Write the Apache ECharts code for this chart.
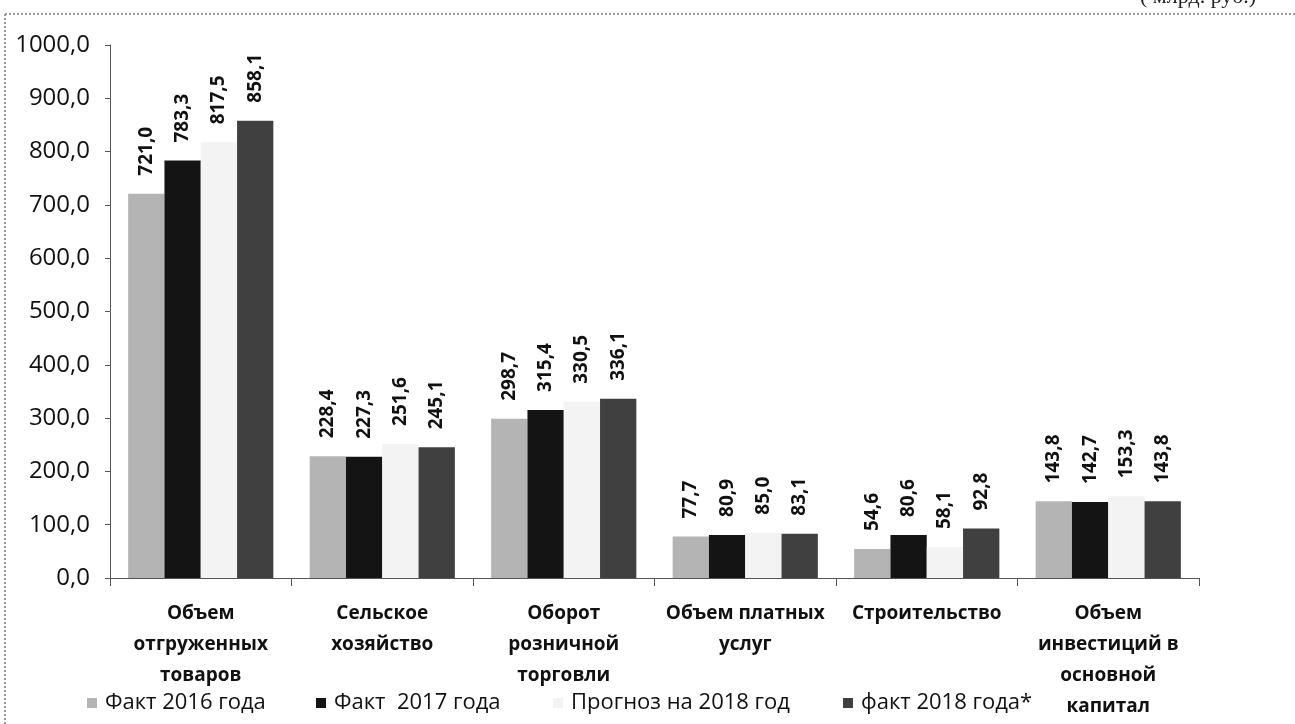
<!DOCTYPE html>
<html>
<head>
<meta charset="utf-8">
<script src="https://cdn.jsdelivr.net/npm/echarts@6/dist/echarts.min.js"></script>
<style>
html,body{margin:0;padding:0;background:#fff;}
#c{width:1295px;height:724px;}
</style>
</head>
<body>
<div id="c"></div>
<script>
var categories = [
  'Объем\nотгруженных\nтоваров',
  'Сельское\nхозяйство',
  'Оборот\nрозничной\nторговли',
  'Объем платных\nуслуг',
  'Строительство',
  'Объем\nинвестиций в\nосновной\nкапитал'
];
var seriesNames = ['Факт 2016 года', 'Факт  2017 года', 'Прогноз на 2018 год', 'факт 2018 года*'];
var fact2016 = [721.0, 228.4, 298.7, 77.7, 54.6, 143.8];
var fact2017 = [783.3, 227.3, 315.4, 80.9, 80.6, 142.7];
var forecast2018 = [817.5, 251.6, 330.5, 85.0, 58.1, 153.3];
var fact2018 = [858.1, 245.1, 336.1, 83.1, 92.8, 143.8];
var unitText = '( млрд. руб.)';

var colors = ['#b4b4b4', '#141414', '#f3f3f3', '#404040'];
var FONT = '"Open Sans", "Noto Sans", sans-serif';
function fmt(v){ return Number(v).toFixed(1).replace('.', ','); }

function mkSeries(name, data, color){
  return {
    name: name, type: 'bar', data: data,
    barGap: '0%', barCategoryGap: '20%',
    itemStyle: {color: color},
    label: {
      show: true, position: 'top', rotate: 90, align: 'left', verticalAlign: 'middle',
      distance: 18, fontFamily: FONT, fontWeight: 'bold', fontSize: 19, color: '#111',
      formatter: function(p){ return fmt(p.value); }
    }
  };
}

var legendX = [87, 316, 553, 843];
var legends = seriesNames.map(function(n, i){
  return {
    data: [n], left: legendX[i], top: 692, padding: 0,
    icon: 'rect', itemWidth: 10, itemHeight: 10, itemGap: 0,
    textStyle: {fontFamily: FONT, fontSize: 22, color: '#111', padding: [0,0,0,3]}
  };
});

var chart = echarts.init(document.getElementById('c'));
chart.setOption({
  animation: false,
  backgroundColor: '#fff',
  color: colors,
  legend: legends,
  grid: {left: 110, right: 96, top: 45, bottom: 146},
  xAxis: {
    type: 'category', data: categories,
    axisLine: {lineStyle: {color: '#555', width: 1}},
    axisTick: {show: true, length: 8, lineStyle: {color: '#555'}},
    axisLabel: {interval: 0, margin: 20, fontFamily: FONT, fontWeight: 'bold', fontSize: 19, lineHeight: 31, color: '#111'}
  },
  yAxis: {
    type: 'value', min: 0, max: 1000, interval: 100,
    axisLine: {show: true, lineStyle: {color: '#555', width: 1}},
    axisTick: {show: true, length: 5, lineStyle: {color: '#555'}},
    splitLine: {show: false},
    axisLabel: {margin: 20, fontFamily: FONT, fontSize: 24, color: '#111', formatter: fmt}
  },
  series: [
    mkSeries(seriesNames[0], fact2016, colors[0]),
    mkSeries(seriesNames[1], fact2017, colors[1]),
    mkSeries(seriesNames[2], forecast2018, colors[2]),
    mkSeries(seriesNames[3], fact2018, colors[3])
  ],
  graphic: [
    {type: 'line', shape: {x1: 5, y1: 14, x2: 1295, y2: 14}, style: {stroke: '#999', lineWidth: 2, lineDash: [2, 2]}},
    {type: 'line', shape: {x1: 5, y1: 14, x2: 5, y2: 724}, style: {stroke: '#999', lineWidth: 2, lineDash: [2, 2]}},
    {type: 'text', left: 1140, top: -14, style: {text: unitText, font: '22px "Liberation Serif", serif', fill: '#222'}}
  ]
});
</script>
</body>
</html>
